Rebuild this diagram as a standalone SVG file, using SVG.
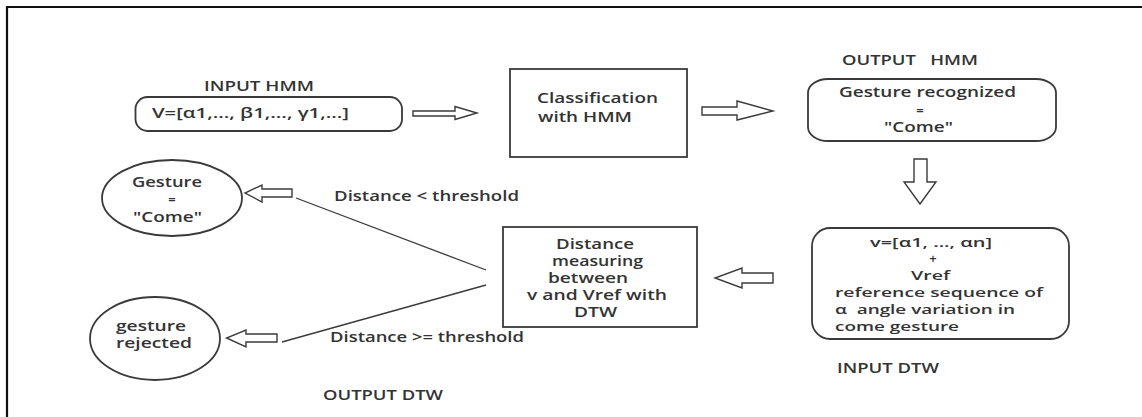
<svg xmlns="http://www.w3.org/2000/svg" width="1142" height="417" viewBox="0 0 1142 417">
<style>
text{font-family:"Open Sans","Liberation Sans",Arial,sans-serif;font-size:14px;font-weight:600;fill:#333;white-space:pre}
.sm{font-size:13px}
.tb text{font-size:13px}
.sh{fill:#fff;stroke:#3a3a3a;stroke-width:1.8}
.ar{fill:#fff;stroke:#3a3a3a;stroke-width:1.4;stroke-linejoin:miter}
.ln{fill:none;stroke:#3a3a3a;stroke-width:1.3}
.c{text-anchor:middle}
</style>
<rect width="1142" height="417" fill="#fff"/>
<g id="frame">
<line x1="7" y1="7" x2="1142" y2="7" stroke="#111" stroke-width="2.2"/>
<line x1="7" y1="6" x2="7" y2="417" stroke="#111" stroke-width="2.2"/>
</g>
<g id="labels">
<text x="204" y="91" textLength="110" lengthAdjust="spacingAndGlyphs">INPUT HMM</text>
<text x="842" y="65" textLength="136" lengthAdjust="spacingAndGlyphs">OUTPUT   HMM</text>
<text x="837" y="373" textLength="102" lengthAdjust="spacingAndGlyphs">INPUT DTW</text>
<text x="323" y="400" textLength="120" lengthAdjust="spacingAndGlyphs">OUTPUT DTW</text>
<text x="334" y="201" textLength="185" lengthAdjust="spacingAndGlyphs">Distance &lt; threshold</text>
<text x="330" y="342" textLength="194" lengthAdjust="spacingAndGlyphs">Distance &gt;= threshold</text>
</g>
<g id="node-input-hmm">
<rect class="sh" x="135.5" y="97" width="266.5" height="34" rx="12" ry="12"/>
<text x="152" y="118" textLength="197" lengthAdjust="spacingAndGlyphs">V=[α1,..., β1,..., γ1,...]</text>
</g>
<g id="node-classification">
<rect class="sh" x="510" y="69" width="177" height="88"/>
<text x="537" y="103" textLength="121" lengthAdjust="spacingAndGlyphs">Classification</text>
<text x="538" y="122" textLength="94" lengthAdjust="spacingAndGlyphs">with HMM</text>
</g>
<g id="node-output-hmm">
<rect class="sh" x="808" y="79" width="248" height="62" rx="20" ry="14"/>
<text x="839" y="97" textLength="177" lengthAdjust="spacingAndGlyphs">Gesture recognized</text>
<text x="920" y="115" class="c sm">=</text>
<text x="884" y="132" textLength="69" lengthAdjust="spacingAndGlyphs">"Come"</text>
</g>
<g id="node-input-dtw" class="tb">
<rect class="sh" x="812" y="228" width="257" height="111" rx="18" ry="18"/>
<text x="870" y="247" textLength="122" lengthAdjust="spacingAndGlyphs">v=[α1, ..., αn]</text>
<text x="933" y="263" class="c">+</text>
<text x="911" y="280" textLength="39" lengthAdjust="spacingAndGlyphs">Vref</text>
<text x="835" y="297" textLength="208" lengthAdjust="spacingAndGlyphs">reference sequence of</text>
<text x="835" y="314" textLength="180" lengthAdjust="spacingAndGlyphs">α  angle variation in</text>
<text x="835" y="330.5" textLength="124" lengthAdjust="spacingAndGlyphs">come gesture</text>
</g>
<g id="node-dtw">
<rect class="sh" x="503" y="227" width="194" height="100"/>
<text x="556" y="249" textLength="78" lengthAdjust="spacingAndGlyphs">Distance</text>
<text x="552" y="266" textLength="91" lengthAdjust="spacingAndGlyphs">measuring</text>
<text x="548" y="283" textLength="80" lengthAdjust="spacingAndGlyphs">between</text>
<text x="527" y="300" textLength="140" lengthAdjust="spacingAndGlyphs">v and Vref with</text>
<text x="574" y="317" textLength="43" lengthAdjust="spacingAndGlyphs">DTW</text>
</g>
<g id="node-come">
<ellipse class="sh" cx="172" cy="198" rx="70" ry="38"/>
<text x="132" y="187" textLength="70" lengthAdjust="spacingAndGlyphs">Gesture</text>
<text x="172" y="204" class="c sm">=</text>
<text x="133" y="222" textLength="69" lengthAdjust="spacingAndGlyphs">"Come"</text>
</g>
<g id="node-rejected">
<ellipse class="sh" cx="155" cy="338.5" rx="65" ry="41.5"/>
<text x="116" y="331" textLength="70" lengthAdjust="spacingAndGlyphs">gesture</text>
<text x="116" y="348" textLength="76" lengthAdjust="spacingAndGlyphs">rejected</text>
</g>
<g id="connectors">
<polygon class="ar" points="413,111 455,111 455,106.5 477,113 455,119.5 455,116 413,116"/>
<polygon class="ar" points="702,107 737,107 737,101 773,111 737,120 737,115 702,115"/>
<polygon class="ar" points="914,159 927,159 927,182 936,182 920,204 904,182 914,182"/>
<polygon class="ar" points="773,273 742,273 742,268 715,278 742,288 742,283 773,283"/>
<polygon class="ar" points="292,189 262,189 262,185 245,193 262,202 262,197 292,197"/>
<polygon class="ar" points="277,334 246,334 246,330 226.5,338 246,347 246,342 277,342"/>
<line class="ln" x1="296" y1="198" x2="486" y2="270"/>
<line class="ln" x1="486" y1="285" x2="282" y2="342"/>
</g>
</svg>
